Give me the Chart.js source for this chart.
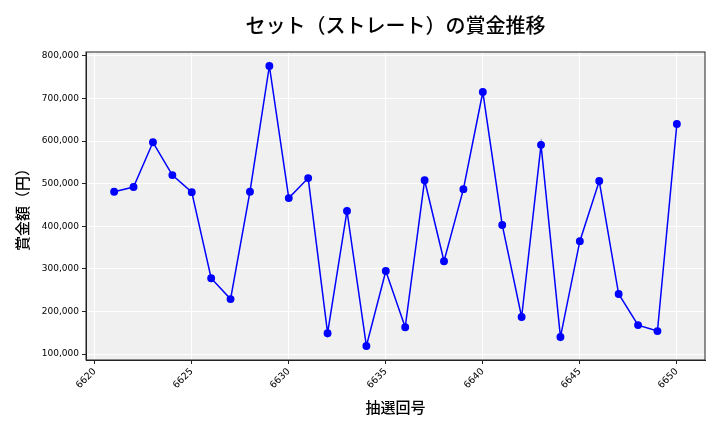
<!DOCTYPE html>
<html>
<head>
<meta charset="utf-8">
<script src="https://cdn.jsdelivr.net/npm/chart.js@4"></script>
<style>
  body { margin: 0; background: #fff; }
  #wrap { width: 720px; height: 432px; }
</style>
</head>
<body>
<div id="wrap"><canvas id="graph"></canvas></div>
<script>
// 抽選回号
const draws = [6621, 6622, 6623, 6624, 6625, 6626, 6627, 6628, 6629, 6630,
    6631, 6632, 6633, 6634, 6635, 6636, 6637, 6638, 6639, 6640,
    6641, 6642, 6643, 6644, 6645, 6646, 6647, 6648, 6649, 6650];

// 賞金額（円）
const prizes = [481000, 492000, 597000, 520000, 480000, 278000, 229000, 481000, 776000, 466000,
    513000, 149000, 436000, 119000, 295000, 163000, 508000, 318000, 487000, 715000,
    403000, 187000, 591000, 140000, 365000, 506000, 241000, 168000, 154000, 640000];

const xTicks = [6620, 6625, 6630, 6635, 6640, 6645, 6650];
const yTicks = [100000, 200000, 300000, 400000, 500000, 600000, 700000, 800000];

const titleText = 'セット（ストレート）の賞金推移';
const jpFont = "'Noto Sans CJK JP', 'DejaVu Sans', sans-serif";

// plot background + frame + title centred over the plot area
const frame = {
    id: 'frame',
    beforeDraw(chart) {
        const { ctx, chartArea: a } = chart;
        ctx.save();
        ctx.fillStyle = '#f0f0f0';
        ctx.fillRect(a.left, a.top, a.right - a.left, a.bottom - a.top);
        ctx.restore();
    },
    afterDraw(chart) {
        const { ctx, chartArea: a } = chart;
        ctx.save();
        ctx.strokeStyle = '#222';
        ctx.lineWidth = 1;
        ctx.strokeRect(a.left, a.top, a.right - a.left, a.bottom - a.top);
        ctx.fillStyle = '#000';
        ctx.font = '500 20px ' + jpFont;
        ctx.textAlign = 'center';
        ctx.textBaseline = 'middle';
        ctx.fillText(titleText, (a.left + a.right) / 2, 25);
        ctx.restore();
    }
};

const data = {
    datasets: [{
        data: draws.map((d, i) => ({ x: d, y: prizes[i] })),
        borderColor: '#0000ff',
        backgroundColor: '#0000ff',
        borderWidth: 1.5,
        pointRadius: 3.2,
        pointHoverRadius: 3.2,
        tension: 0
    }]
};

const chart = new Chart(document.getElementById('graph'), {
    type: 'line',
    data: data,
    plugins: [frame],
    options: {
        responsive: true,
        maintainAspectRatio: false,
        animation: false,
        layout: { padding: { left: 0, right: 15, top: 52, bottom: 0 } },
        plugins: {
            legend: { display: false },
            tooltip: { enabled: false },
            title: { display: false }
        },
        scales: {
            x: {
                type: 'linear',
                min: 6619.55,
                max: 6651.45,
                afterBuildTicks: axis => { axis.ticks = xTicks.map(v => ({ value: v })); },
                afterFit: axis => { axis.height = 72; },
                grid: { color: '#ffffff', lineWidth: 1, tickColor: '#222', tickLength: 4 },
                border: { display: true, color: '#222' },
                ticks: {
                    color: '#000',
                    font: { family: "'DejaVu Sans'", size: 9.5 },
                    minRotation: 45,
                    maxRotation: 45,
                    padding: 2,
                    callback: v => String(v)
                },
                title: {
                    display: true,
                    text: '抽選回号',
                    color: '#000',
                    font: { family: jpFont, size: 15, weight: '500' },
                    padding: { top: 0, bottom: 16 }
                }
            },
            y: {
                type: 'linear',
                min: 86150,
                max: 808850,
                afterBuildTicks: axis => { axis.ticks = yTicks.map(v => ({ value: v })); },
                afterFit: axis => { axis.width = 86; },
                grid: { color: '#ffffff', lineWidth: 1, tickColor: '#222', tickLength: 4 },
                border: { display: true, color: '#222' },
                ticks: {
                    color: '#000',
                    font: { family: "'DejaVu Sans'", size: 9 },
                    padding: 3,
                    callback: v => v.toLocaleString('en-US')
                },
                title: {
                    display: true,
                    text: '賞金額（円）',
                    color: '#000',
                    font: { family: jpFont, size: 15, weight: '500' },
                    padding: { top: 13, bottom: 0 }
                }
            }
        }
    }
});
</script>
</body>
</html>
